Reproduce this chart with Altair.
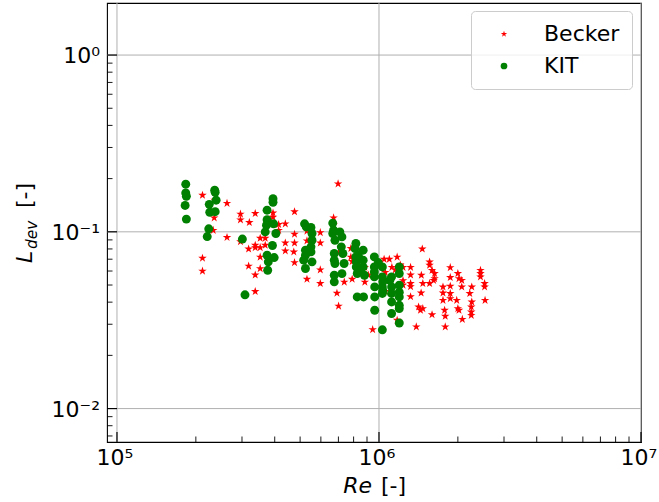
import altair as alt
import pandas as pd

# ---------------- data ----------------
becker_re = [2.12e5, 2.36e5, 2.63e5, 2.35e5, 2.33e5, 2.63e5, 2.12e5, 2.12e5,
             2.96e5, 2.96e5, 3.20e5, 3.37e5, 2.96e5, 3.18e5, 3.37e5, 3.37e5,
             3.52e5, 3.52e5, 3.68e5, 3.68e5, 3.52e5, 3.18e5, 3.52e5, 3.37e5, 3.37e5,
             3.94e5, 3.94e5, 4.14e5, 4.14e5, 4.39e5, 4.76e5, 4.76e5, 4.76e5, 4.39e5,
             4.39e5, 4.73e5, 4.76e5, 5.31e5, 5.31e5, 5.31e5, 5.97e5, 5.97e5, 5.97e5,
             5.97e5, 6.98e5, 6.71e5, 6.71e5, 7.01e5, 6.91e5, 7.01e5, 7.37e5, 7.81e5,
             7.81e5, 8.16e5, 7.90e5, 8.83e5, 8.83e5, 9.46e5, 1.046e6, 1.095e6, 1.173e6,
             1.235e6, 1.235e6, 1.235e6, 1.32e6, 1.32e6, 1.32e6, 1.32e6, 1.388e6, 1.463e6,
             7.90e5, 8.34e5, 9.10e5, 1.057e6, 1.12e6, 1.057e6, 1.206e6, 1.154e6, 1.32e6,
             1.173e6, 1.56e6, 1.56e6, 1.594e6, 1.63e6, 1.63e6, 1.56e6, 1.616e6, 1.451e6,
             1.47e6, 1.448e6, 1.416e6, 1.44e6, 1.47e6, 1.594e6, 1.755e6, 1.755e6, 1.755e6,
             1.78e6, 1.79e6, 1.79e6, 1.871e6, 1.871e6, 1.871e6, 1.871e6, 1.871e6, 2.0e6,
             2.02e6, 2.07e6, 2.07e6, 1.98e6, 2.0e6, 2.02e6, 2.08e6, 2.26e6, 2.22e6, 2.26e6,
             2.25e6, 2.25e6, 2.25e6, 2.44e6, 2.44e6, 2.44e6, 2.53e6, 2.53e6, 2.54e6]
becker_l = [0.161, 0.151, 0.145, 0.120, 0.102, 0.093, 0.071, 0.060,
            0.126, 0.117, 0.113, 0.127, 0.088, 0.080, 0.084, 0.0815,
            0.092, 0.0815, 0.092, 0.084, 0.072, 0.064, 0.062, 0.057, 0.046,
            0.128, 0.121, 0.110, 0.102, 0.111, 0.130, 0.097, 0.0865, 0.0865,
            0.078, 0.077, 0.067, 0.101, 0.089, 0.054, 0.099, 0.0865, 0.061,
            0.051, 0.187, 0.120, 0.110, 0.076, 0.045, 0.038, 0.052, 0.0805,
            0.072, 0.084, 0.068, 0.063, 0.052, 0.028, 0.070, 0.070, 0.072,
            0.063, 0.053, 0.050, 0.063, 0.057, 0.049, 0.043, 0.029, 0.080,
            0.054, 0.064, 0.057, 0.059, 0.063, 0.046, 0.065, 0.061, 0.051,
            0.0316, 0.0676, 0.0647, 0.0606, 0.0581, 0.0544, 0.0510, 0.0532, 0.0568,
            0.0510, 0.0451, 0.0376, 0.0360, 0.0368, 0.0340, 0.0488, 0.0451, 0.0410,
            0.0360, 0.0333, 0.0290, 0.0628, 0.0552, 0.0493, 0.0448, 0.0419, 0.0581,
            0.0544, 0.0532, 0.0488, 0.0410, 0.0368, 0.0360, 0.0320, 0.0488, 0.0448, 0.0401,
            0.0376, 0.0352, 0.0337, 0.0606, 0.0581, 0.0556, 0.0510, 0.0488, 0.0410]

kit_re = [1.83e5, 1.83e5, 1.84e5, 1.82e5, 1.84e5,
          2.36e5, 2.37e5, 2.39e5, 2.25e5, 2.26e5, 2.37e5, 2.24e5, 2.21e5,
          3.01e5, 3.08e5,
          3.94e5, 3.94e5, 3.74e5, 3.74e5, 3.72e5, 3.96e5, 3.68e5, 4.04e5, 3.92e5,
          3.74e5, 3.98e5, 3.78e5, 3.76e5,
          5.20e5, 5.28e5, 5.50e5, 5.55e5, 5.55e5, 5.50e5, 5.24e5, 5.24e5, 5.50e5,
          5.16e5, 5.24e5, 5.55e5,
          6.66e5, 6.66e5, 6.71e5, 6.79e5, 6.75e5, 6.75e5, 6.79e5, 6.75e5, 6.75e5,
          7.09e5, 7.22e5, 7.18e5, 7.28e5, 7.36e5, 7.22e5,
          8.16e5, 8.10e5, 8.16e5, 8.19e5, 8.19e5, 8.26e5, 8.70e5, 8.70e5, 8.70e5,
          8.80e5, 8.26e5, 8.73e5, 8.34e5, 8.48e5,
          9.60e5, 9.60e5, 9.60e5, 9.63e5, 9.63e5, 9.63e5, 1.03e6, 1.03e6, 1.03e6,
          1.03e6, 1.03e6, 9.60e5, 1.034e6, 1.034e6, 9.94e5,
          1.117e6, 1.117e6, 1.117e6, 1.117e6, 1.117e6, 1.195e6, 1.195e6, 1.195e6,
          1.195e6, 1.195e6, 1.195e6, 1.195e6, 1.195e6, 1.10e6]
kit_l = [0.186, 0.166, 0.159, 0.141, 0.118,
         0.172, 0.1675, 0.151, 0.143, 0.129, 0.130, 0.104, 0.094,
         0.091, 0.044,
         0.154, 0.147, 0.1325, 0.117, 0.109, 0.111, 0.0999, 0.0978, 0.0837,
         0.0737, 0.0715, 0.0676, 0.0606,
         0.111, 0.1066, 0.1058, 0.0978, 0.0896, 0.0822, 0.0787, 0.0737, 0.0770,
         0.0691, 0.0620, 0.0676,
         0.112, 0.0978, 0.1021, 0.0896, 0.0754, 0.0691, 0.0662, 0.0568, 0.0521,
         0.0999, 0.0936, 0.0822, 0.0754, 0.0662, 0.058,
         0.0859, 0.0805, 0.0721, 0.0676, 0.0633, 0.0581, 0.0787, 0.0691, 0.0633,
         0.0568, 0.0428, 0.0428, 0.0737, 0.0606,
         0.0721, 0.0633, 0.0556, 0.0488, 0.0428, 0.036, 0.0633, 0.0556, 0.0488,
         0.0448, 0.0279, 0.0593, 0.0521, 0.0465, 0.0670,
         0.0556, 0.0488, 0.0448, 0.0401, 0.0345, 0.0633, 0.0581, 0.0499,
         0.0455, 0.0428, 0.0384, 0.0368, 0.0305, 0.0532]

series_names = ["Becker", "KIT"]
series_colors = ["#ff0000", "#008000"]
# five-pointed star as an SVG path in the unit box, plus a circle
STAR = ("M0,-1L0.225,-0.309L0.951,-0.309L0.363,0.118L0.588,0.809L0,0.382"
        "L-0.588,0.809L-0.363,0.118L-0.951,-0.309L-0.225,-0.309Z")
series_shapes = [STAR, "circle"]

x_major = [1e5, 1e6, 1e7]
x_major_labels = ["10\u2075", "10\u2076", "10\u2077"]
x_minor = [2e5, 3e5, 4e5, 5e5, 6e5, 7e5, 8e5, 9e5,
           2e6, 3e6, 4e6, 5e6, 6e6, 7e6, 8e6, 9e6]
y_major = [0.01, 0.1, 1.0]
y_major_labels = ["10\u207b\u00b2", "10\u207b\u00b9", "10\u2070"]
y_minor = [0.007, 0.008, 0.009, 0.02, 0.03, 0.04, 0.05, 0.06, 0.07, 0.08, 0.09,
           0.2, 0.3, 0.4, 0.5, 0.6, 0.7, 0.8, 0.9]
x_domain = [91600, 1e7]
y_domain = [0.00647, 1.97]

# ---------------- chart ----------------
W, H = 534, 439
FONT = "DejaVu Sans"
GRID = "#b0b0b0"

df = pd.DataFrame({
    "Re": becker_re + kit_re,
    "L": becker_l + kit_l,
    "series": ["Becker"] * len(becker_re) + ["KIT"] * len(kit_re),
})
xdf = pd.DataFrame({"v": x_major, "lab": x_major_labels})
ydf = pd.DataFrame({"w": y_major, "lab": y_major_labels})

xs = alt.Scale(type="log", domain=x_domain, nice=False)
ys = alt.Scale(type="log", domain=y_domain, nice=False)

legend_kw = dict(title=None, orient="none", legendX=364, legendY=8,
                 fillColor="rgba(255,255,255,0.8)", strokeColor="#cccccc",
                 cornerRadius=4, padding=12, labelFontSize=22, labelFont=FONT,
                 labelColor="black", symbolSize=45, symbolOffset=10,
                 labelOffset=29, rowPadding=10)

# grid lines at the major ticks
xgrid = alt.Chart(xdf).mark_rule(color=GRID, strokeWidth=1).encode(
    x=alt.X("v:Q", scale=xs, axis=None), y=alt.value(0), y2=alt.value(H))
ygrid = alt.Chart(ydf).mark_rule(color=GRID, strokeWidth=1).encode(
    y=alt.Y("w:Q", scale=ys, axis=None), x=alt.value(0), x2=alt.value(W))

points = alt.Chart(df).mark_point(filled=True, opacity=1, size=80).encode(
    x=alt.X("Re:Q", scale=xs, axis=None),
    y=alt.Y("L:Q", scale=ys, axis=None),
    color=alt.Color("series:N",
                    scale=alt.Scale(domain=series_names, range=series_colors),
                    legend=alt.Legend(**legend_kw)),
    shape=alt.Shape("series:N",
                    scale=alt.Scale(domain=series_names, range=series_shapes),
                    legend=alt.Legend(**legend_kw)),
)

# inward ticks
xmaj = alt.Chart(xdf).mark_rule(color="black", strokeWidth=1.2).encode(
    x=alt.X("v:Q", scale=xs, axis=None), y=alt.value(H), y2=alt.value(H - 10))
xmin = alt.Chart(pd.DataFrame({"v": x_minor})).mark_rule(color="black", strokeWidth=0.9).encode(
    x=alt.X("v:Q", scale=xs, axis=None), y=alt.value(H), y2=alt.value(H - 5.5))
ymaj = alt.Chart(ydf).mark_rule(color="black", strokeWidth=1.2).encode(
    y=alt.Y("w:Q", scale=ys, axis=None), x=alt.value(0), x2=alt.value(10))
ymin = alt.Chart(pd.DataFrame({"w": y_minor})).mark_rule(color="black", strokeWidth=0.9).encode(
    y=alt.Y("w:Q", scale=ys, axis=None), x=alt.value(0), x2=alt.value(5.5))

# tick labels
xlab = alt.Chart(xdf).mark_text(font=FONT, fontSize=22, align="center",
                                baseline="alphabetic", color="black", dx=-2).encode(
    x=alt.X("v:Q", scale=xs, axis=None), y=alt.value(462), text="lab:N")
ylab = alt.Chart(ydf).mark_text(font=FONT, fontSize=22, align="right",
                                baseline="alphabetic", color="black", dy=8).encode(
    y=alt.Y("w:Q", scale=ys, axis=None), x=alt.value(-7), text="lab:N")

# axis titles (mixed italic / upright text)
xt1 = alt.Chart(pd.DataFrame({"t": ["Re"]})).mark_text(
    font=FONT, fontSize=22, fontStyle="italic", align="right", baseline="alphabetic",
    color="black").encode(text="t:N", x=alt.value(265), y=alt.value(490))
xt2 = alt.Chart(pd.DataFrame({"t": ["[-]"]})).mark_text(
    font=FONT, fontSize=22, align="left", baseline="alphabetic",
    color="black").encode(text="t:N", x=alt.value(274), y=alt.value(490))
yt1 = alt.Chart(pd.DataFrame({"t": ["L"]})).mark_text(
    font=FONT, fontSize=22, fontStyle="italic", align="left", baseline="alphabetic",
    angle=270, color="black").encode(text="t:N", x=alt.value(-75), y=alt.value(260))
yt2 = alt.Chart(pd.DataFrame({"t": ["dev"]})).mark_text(
    font=FONT, fontSize=15.4, fontStyle="italic", align="left", baseline="alphabetic",
    angle=270, color="black").encode(text="t:N", x=alt.value(-70.5), y=alt.value(246))
yt3 = alt.Chart(pd.DataFrame({"t": ["[-]"]})).mark_text(
    font=FONT, fontSize=22, align="left", baseline="alphabetic",
    angle=270, color="black").encode(text="t:N", x=alt.value(-75), y=alt.value(205))

chart = alt.layer(xgrid, ygrid, points, xmaj, xmin, ymaj, ymin, xlab, ylab,
                  xt1, xt2, yt1, yt2, yt3).properties(
    width=W, height=H,
    autosize=alt.AutoSizeParams(type="none"),
    padding={"left": 107, "top": 3, "right": 18, "bottom": 60},
    background="white",
).configure_view(stroke="black", strokeWidth=1.1)

chart.save("out.html", embed_options={"renderer": "svg", "actions": False})
